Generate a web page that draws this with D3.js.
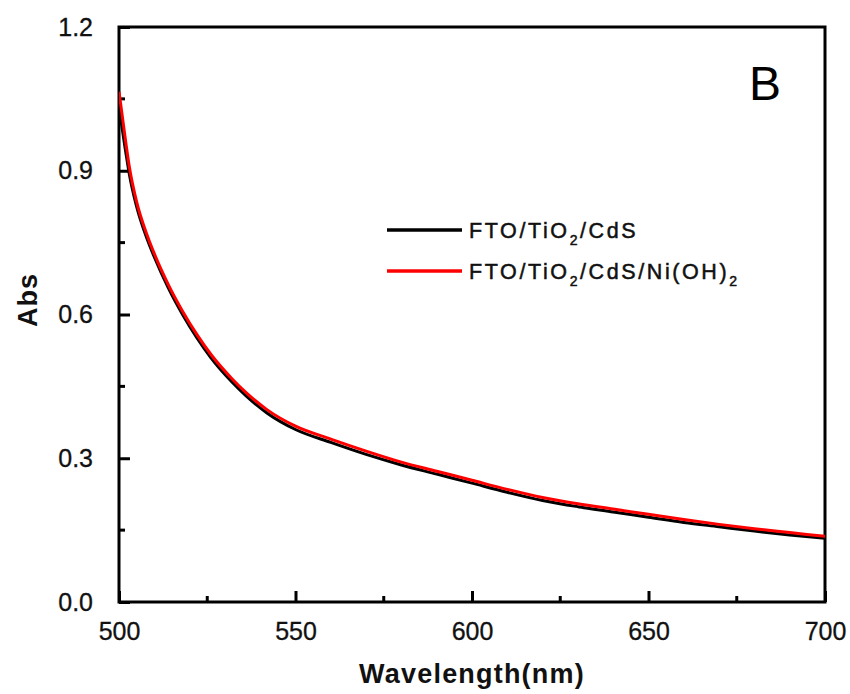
<!DOCTYPE html>
<html>
<head>
<meta charset="utf-8">
<script src="https://cdn.jsdelivr.net/npm/d3@7"></script>
<style>
  body { margin: 0; background: #fff; }
  text { font-family: Arial, "Liberation Sans", sans-serif; }
</style>
</head>
<body>
<div id="chart-area"></div>
<script>
var margin = { left: 119, right: 25, top: 27, bottom: 92 };
var width = 850 - margin.left - margin.right;
var height = 694 - margin.top - margin.bottom;

// data
var wavelengths = [500, 502, 503, 505, 508, 510, 514, 518, 522, 526, 532, 536, 542, 550,
  560, 570, 580, 590, 600, 610, 620, 630, 640, 650, 660, 670, 680, 690, 700];
var absCdS = [1.035, 0.935, 0.89, 0.825, 0.757, 0.72, 0.655, 0.60, 0.552, 0.51, 0.459, 0.43, 0.394, 0.36,
  0.333, 0.308, 0.286, 0.267, 0.248, 0.229, 0.212, 0.199, 0.188, 0.177, 0.166, 0.157, 0.148, 0.140, 0.133];
var absNiOH = [1.065, 0.955, 0.905, 0.835, 0.765, 0.727, 0.662, 0.607, 0.559, 0.517, 0.466, 0.437, 0.401, 0.367,
  0.34, 0.315, 0.292, 0.273, 0.254, 0.235, 0.218, 0.205, 0.194, 0.183, 0.172, 0.162, 0.153, 0.145, 0.137];
var xTicks = [500, 550, 600, 650, 700];
var yTicks = [0.0, 0.3, 0.6, 0.9, 1.2];
var seriesNames = ["FTO/TiO|2|/CdS", "FTO/TiO|2|/CdS/Ni(OH)|2|"];
var seriesColors = ["#000000", "#ff0000"];

var svg = d3.select("#chart-area")
  .append("svg")
  .attr("width", 850)
  .attr("height", 694);

var g = svg.append("g")
  .attr("transform", "translate(" + margin.left + "," + margin.top + ")");

var x = d3.scaleLinear().domain([500, 700]).range([0, width]);
var y = d3.scaleLinear().domain([0, 1.2]).range([height, 0]);

// minor ticks
var xMinor = d3.range(525, 700, 50);
var yMinor = d3.range(0.15, 1.2, 0.3);

g.selectAll(".xminor").data(xMinor).enter()
  .append("line")
  .attr("x1", function(d){ return x(d); })
  .attr("x2", function(d){ return x(d); })
  .attr("y1", height)
  .attr("y2", height - 6)
  .attr("stroke", "#000").attr("stroke-width", 3);

g.selectAll(".yminor").data(yMinor).enter()
  .append("line")
  .attr("y1", function(d){ return y(d); })
  .attr("y2", function(d){ return y(d); })
  .attr("x1", 0)
  .attr("x2", 6)
  .attr("stroke", "#000").attr("stroke-width", 3);

var xAxisCall = d3.axisBottom(x)
  .tickValues(xTicks)
  .tickSizeInner(-11)
  .tickSizeOuter(0)
  .tickPadding(20)
  .tickFormat(d3.format("d"));
var xAxis = g.append("g")
  .attr("transform", "translate(0," + height + ")")
  .call(xAxisCall);

var yAxisCall = d3.axisLeft(y)
  .tickValues(yTicks)
  .tickSizeInner(-11)
  .tickSizeOuter(0)
  .tickPadding(26)
  .tickFormat(d3.format(".1f"));
var yAxis = g.append("g").call(yAxisCall);

[xAxis, yAxis].forEach(function(a){
  a.select(".domain").remove();
  a.selectAll(".tick line").attr("stroke", "#000").attr("stroke-width", 3);
  a.selectAll(".tick text")
    .attr("fill", "#111")
    .attr("stroke", "#111")
    .attr("stroke-width", 0.3)
    .attr("font-size", "25px");
});

// frame
g.append("rect")
  .attr("x", 0).attr("y", 0)
  .attr("width", width).attr("height", height)
  .attr("fill", "none")
  .attr("stroke", "#000")
  .attr("stroke-width", 3);

// curves
var line = d3.line()
  .x(function(d){ return x(d[0]); })
  .y(function(d){ return y(d[1]); })
  .curve(d3.curveMonotoneX);

svg.append("clipPath").attr("id", "clip")
  .append("rect").attr("x", 0).attr("y", 0).attr("width", width).attr("height", height);

[absCdS, absNiOH].forEach(function(vals, i){
  g.append("path")
    .datum(d3.zip(wavelengths, vals))
    .attr("clip-path", "url(#clip)")
    .attr("fill", "none")
    .attr("stroke", seriesColors[i])
    .attr("stroke-width", 3)
    .attr("d", line);
});

// legend
var legend = svg.append("g").attr("transform", "translate(387,230)");
seriesNames.forEach(function(name, i){
  var row = legend.append("g").attr("transform", "translate(0," + (i * 41) + ")");
  row.append("line")
    .attr("x1", 0).attr("x2", 75)
    .attr("stroke", seriesColors[i])
    .attr("stroke-width", 3.5);
  var t = row.append("text")
    .attr("x", 82).attr("y", 8)
    .attr("font-size", "21.5px")
    .attr("letter-spacing", "2.6px")
    .attr("fill", "#111")
    .attr("stroke", "#111")
    .attr("stroke-width", 0.5);
  name.split("|").forEach(function(part, k){
    var span = t.append("tspan").text(part);
    if (k % 2 === 1) {
      span.attr("font-size", "14px").attr("dy", 7);
    } else if (k > 0) {
      span.attr("dy", -7);
    }
  });
});

// axis titles
svg.append("text")
  .attr("x", margin.left + width / 2)
  .attr("y", 683)
  .attr("text-anchor", "middle")
  .attr("font-size", "27px")
  .attr("font-weight", "bold")
  .attr("letter-spacing", "1.2px")
  .attr("fill", "#111")
  .text("Wavelength(nm)");

svg.append("text")
  .attr("transform", "translate(37,300) rotate(-90)")
  .attr("text-anchor", "middle")
  .attr("font-size", "27px")
  .attr("font-weight", "bold")
  .attr("letter-spacing", "1px")
  .attr("fill", "#111")
  .text("Abs");

svg.append("text")
  .attr("x", 749).attr("y", 100)
  .attr("font-size", "48px")
  .attr("fill", "#000")
  .text("B");
</script>
</body>
</html>
